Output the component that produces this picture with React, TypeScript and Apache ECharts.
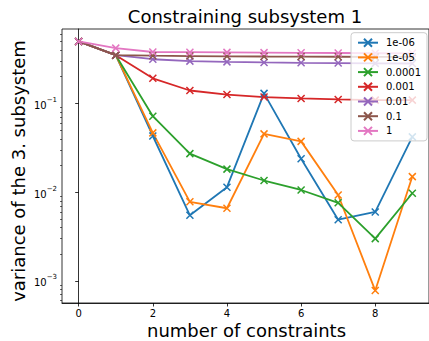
import React, { useEffect, useRef } from 'react';
import * as echarts from 'echarts';

const xValues = [0, 1, 2, 3, 4, 5, 6, 7, 8, 9];
const seriesNames = ['1e-06', '1e-05', '0.0001', '0.001', '0.01', '0.1', '1'];
const s1e6 = [0.5, 0.35, 0.043, 0.0055, 0.0114, 0.13, 0.0238, 0.0049, 0.006, 0.042];
const s1e5 = [0.5, 0.35, 0.0466, 0.0078, 0.0066, 0.0454, 0.0374, 0.0093, 0.00078, 0.015];
const s1e4 = [0.5, 0.35, 0.0718, 0.0272, 0.0182, 0.01355, 0.0106, 0.0076, 0.003, 0.00975];
const s1e3 = [0.5, 0.35, 0.192, 0.14, 0.126, 0.118, 0.114, 0.111, 0.109, 0.109];
const s1e2 = [0.5, 0.35, 0.315, 0.3, 0.294, 0.29, 0.287, 0.285, 0.283, 0.282];
const s1e1 = [0.5, 0.35, 0.345, 0.342, 0.34, 0.338, 0.337, 0.336, 0.335, 0.334];
const s1 = [0.5, 0.42, 0.38, 0.378, 0.376, 0.374, 0.372, 0.37, 0.368, 0.367];
const seriesValues = [s1e6, s1e5, s1e4, s1e3, s1e2, s1e1, s1];
const colors = ['#1f77b4', '#ff7f0e', '#2ca02c', '#d62728', '#9467bd', '#8c564b', '#e377c2'];

const xTicks = [0, 2, 4, 6, 8];
const yMajorTicks = [0.001, 0.01, 0.1];
const yMinorTicks = [
  0.0006, 0.0007, 0.0008, 0.0009,
  0.002, 0.003, 0.004, 0.005, 0.006, 0.007, 0.008, 0.009,
  0.02, 0.03, 0.04, 0.05, 0.06, 0.07, 0.08, 0.09,
  0.2, 0.3, 0.4, 0.5, 0.6,
];
const titleText = 'Constraining subsystem 1';
const xLabel = 'number of constraints';
const yLabel = 'variance of the 3. subsystem';

const FONT = 'DejaVu Sans';
const X_SYMBOL = 'path://M0,0L7,7M7,0L0,7';

export default function App() {
  const ref = useRef<HTMLDivElement>(null);
  useEffect(() => {
    if (!ref.current) return;
    const chart = echarts.init(ref.current, undefined, { renderer: 'svg' });
    const yMin = 0.000565;
    const yMax = 0.69;
    const supMap: Record<string, string> = { '0.001': '−3', '0.01': '−2', '0.1': '−1' };
    chart.setOption({
      animation: false,
      grid: {
        left: 62,
        top: 29,
        width: 368,
        height: 274,
        show: true,
        borderColor: '#000',
        borderWidth: 0.8,
        backgroundColor: 'transparent',
      },
      graphic: [
        {
          type: 'text',
          x: 245,
          y: 16.8,
          style: { text: titleText, fontSize: 18, fontFamily: FONT, fill: '#000', align: 'center', verticalAlign: 'middle' },
        },
        {
          type: 'text',
          x: 246.5,
          y: 330.8,
          style: { text: xLabel, fontSize: 18, fontFamily: FONT, fill: '#000', align: 'center', verticalAlign: 'middle' },
        },
        {
          type: 'text',
          x: 18,
          y: 171,
          rotation: Math.PI / 2,
          style: { text: yLabel, fontSize: 18, fontFamily: FONT, fill: '#000', align: 'center', verticalAlign: 'middle' },
        },
      ],
      legend: {
        orient: 'vertical',
        left: 351,
        top: 32.7,
        padding: [5, 6, 5, 6],
        itemWidth: 20,
        itemHeight: 10,
        itemGap: 4.7,
        backgroundColor: 'rgba(255,255,255,0.8)',
        borderColor: '#cccccc',
        borderWidth: 1,
        borderRadius: 3,
        data: seriesNames,
        textStyle: { fontSize: 10, fontFamily: FONT, color: '#000', lineHeight: 10, padding: [0, 0, 0, 3] },
      },
      xAxis: {
        type: 'value',
        min: -0.45,
        max: 9.45,
        axisLine: { show: true, lineStyle: { color: '#000', width: 0.8 } },
        axisTick: { show: true, length: 3.5, lineStyle: { color: '#000', width: 0.8 }, customValues: xTicks },
        axisLabel: { fontSize: 10, fontFamily: FONT, color: '#000', margin: 5, customValues: xTicks },
        splitLine: { show: false },
      },
      yAxis: [
        {
          type: 'log',
          logBase: 10,
          min: yMin,
          max: yMax,
          axisLine: { show: true, lineStyle: { color: '#000', width: 0.8 } },
          axisTick: { show: true, length: 3.5, lineStyle: { color: '#000', width: 0.8 }, customValues: yMajorTicks },
          axisLabel: {
            customValues: yMajorTicks,
            margin: 5,
            formatter: (v: number) => {
              const key = String(parseFloat(v.toPrecision(3)));
              return '{b|10}{s|' + (supMap[key] || '') + '}';
            },
            rich: {
              b: { fontSize: 10, fontFamily: FONT, color: '#000', lineHeight: 14, verticalAlign: 'bottom' },
              s: { fontSize: 7, fontFamily: FONT, color: '#000', lineHeight: 14, verticalAlign: 'top' },
            },
          },
          splitLine: { show: false },
        },
        {
          type: 'log',
          logBase: 10,
          min: yMin,
          max: yMax,
          position: 'left',
          axisLine: { show: false },
          axisTick: { show: true, length: 2, lineStyle: { color: '#000', width: 0.6 }, customValues: yMinorTicks },
          axisLabel: { show: false },
          splitLine: { show: false },
        },
      ],
      series: seriesNames.map((name, i) => ({
        name,
        type: 'line',
        yAxisIndex: 0,
        data: xValues.map((x, j) => [x, seriesValues[i][j]]),
        symbol: X_SYMBOL,
        symbolSize: 7,
        showSymbol: true,
        lineStyle: { color: colors[i], width: 1.8 },
        itemStyle: { color: colors[i], borderColor: colors[i], borderWidth: 1.5 },
        emphasis: { disabled: true },
      })),
    });
    return () => chart.dispose();
  }, []);
  return <div ref={ref} style={{ width: 429, height: 341, position: 'absolute', left: 0, top: 0 }} />;
}
